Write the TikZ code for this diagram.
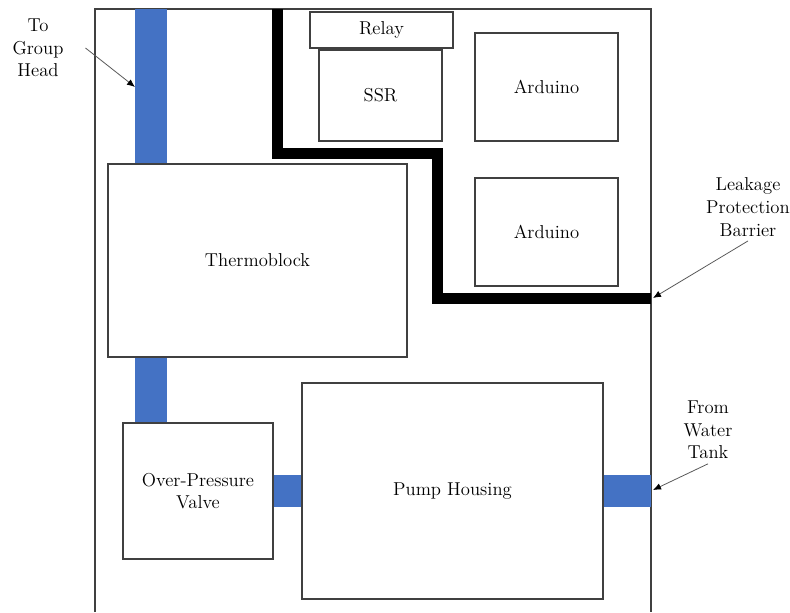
\documentclass[tikz,border=0pt]{standalone}
\usetikzlibrary{arrows.meta}
\definecolor{pipeblue}{HTML}{4472C4}
\begin{document}
\begin{tikzpicture}[x=0.75pt,y=-0.75pt]
                \tikzstyle{every node}=[font=\fontsize{14}{17}\selectfont]
                \tikzstyle{box}=[draw=black!75, line width=0.8pt, inner sep=0pt]
                \tikzstyle{pipe}=[fill=pipeblue]
                \tikzstyle{lbl}=[align=center]
                \tikzstyle{arr}=[-{Latex[length=6pt,width=5pt,black]}, draw=black!65, line width=0.6pt]
                \useasboundingbox (0,0) rectangle (790,612);
                % housing and pipes
                \draw[black!75, line width=0.8pt] (95,612) |- (651,9) -- (651,612);
                \fill[pipe] (135,9) rectangle (167,164);
                \fill[pipe] (135,357) rectangle (167,423);
                \fill[pipe] (273,475) rectangle (302,507);
                \fill[pipe] (603,475) rectangle (651,507);
                % parts
                \node[box, minimum width=224.25pt, minimum height=144.75pt] (thermo) at (257.5,260.5) {Thermoblock};
                \node[box, minimum width=112.5pt, minimum height=102pt, align=center] (opv) at (198,491) {Over-Pressure\\Valve};
                \node[box, minimum width=225.75pt, minimum height=162pt] (pump) at (452.5,491) {Pump Housing};
                \node[box, minimum width=107.25pt, minimum height=27pt] (relay) at (381.5,30) {Relay};
                \node[box, minimum width=92.25pt, minimum height=68.25pt] (ssr) at (380.5,95.5) {SSR};
                \node[box, minimum width=107.25pt, minimum height=81pt] (ard1) at (546.5,87) {Arduino};
                \node[box, minimum width=107.25pt, minimum height=81pt] (ard2) at (546.5,232) {Arduino};
                % barrier
                \draw[line width=8.25pt] (277.5,9) -- (277.5,153.5) -- (437.5,153.5) -- (437.5,298.5) -- (651,298.5);
                % labels
                \node[lbl] (tgh) at (38,48) {To\\Group\\Head};
                \node[lbl] (lpb) at (748,207) {Leakage\\Protection\\Barrier};
                \node[lbl] (fwt) at (708,430) {From\\Water\\Tank};
                \coordinate (gh) at (135,87);
                \coordinate (bar) at (653,298);
                \coordinate (wt) at (653,490);
                \draw[arr] ([xshift=13pt]tgh.east) -- (gh);
                \draw[arr] (lpb.south) -- (bar);
                \draw[arr] (fwt.south) -- (wt);
            \end{tikzpicture}
\end{document}
